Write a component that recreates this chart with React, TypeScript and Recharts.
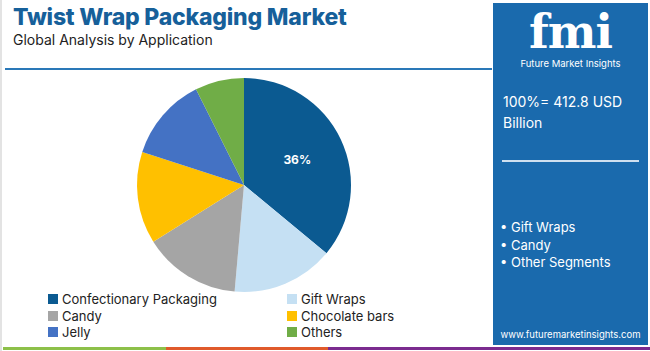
import { Cell, Pie, PieChart } from 'recharts'

const segments = ['Confectionary Packaging', 'Gift Wraps', 'Candy', 'Chocolate bars', 'Jelly', 'Others']
const shares = [36, 15.4, 14.7, 13.9, 12.6, 7.4]
const colors = ['#0b5a91', '#c5e0f3', '#a5a5a5', '#ffc000', '#4472c4', '#70ad47']
const highlights = ['Gift Wraps', 'Candy', 'Other Segments']

const pieData = segments.map((name, i) => ({ name, value: shares[i] }))

const RAD = Math.PI / 180

function renderLabel(props: any) {
  const { cx, cy, midAngle, outerRadius, index, value } = props
  if (index !== 0) return null
  const r = outerRadius * 0.55
  const x = cx + r * Math.cos(-midAngle * RAD)
  const y = cy + r * Math.sin(-midAngle * RAD)
  return (
    <text x={x} y={y} fill="#fff" fontSize={12} fontWeight={700} textAnchor="middle" dominantBaseline="central">
      {`${Math.round(value)}%`}
    </text>
  )
}

export default function App() {
  const font = 'Inter, "Open Sans", sans-serif'
  return (
    <div style={{ position: 'fixed', left: 0, top: 0, width: 650, height: 351, background: '#fff', fontFamily: font, overflow: 'hidden' }}>
      <div style={{ position: 'absolute', left: 0, top: 0, width: 2, height: 351, background: '#e3e3e3' }} />
      <div style={{ position: 'absolute', left: 13, top: 3, fontSize: 23, fontWeight: 800, color: '#16609a', letterSpacing: -0.2 }}>
        Twist Wrap Packaging Market
      </div>
      <div style={{ position: 'absolute', left: 13, top: 31, fontSize: 14, color: '#222' }}>Global Analysis by Application</div>
      <div style={{ position: 'absolute', left: 5, top: 68, width: 487, height: 2, background: '#2a78b8' }} />

      <div style={{ position: 'absolute', left: 0, top: 0 }}>
        <PieChart width={490} height={300} margin={{ top: 0, right: 0, bottom: 0, left: 0 }}>
          <Pie
            data={pieData}
            dataKey="value"
            cx={244}
            cy={185}
            outerRadius={107}
            startAngle={90}
            endAngle={-270}
            stroke="none"
            label={renderLabel}
            labelLine={false}
            isAnimationActive={false}
          >
            {pieData.map((d, i) => (
              <Cell key={d.name} fill={colors[i]} />
            ))}
          </Pie>
        </PieChart>
      </div>

      <div style={{ position: 'absolute', left: 48, top: 291, width: 440, display: 'grid', gridTemplateColumns: '239px 200px', rowGap: 0 }}>
        {segments.map((s, i) => (
          <div key={s} style={{ display: 'flex', alignItems: 'center', height: 16.5, fontSize: 13, color: '#222' }}>
            <span style={{ width: 10, height: 10, background: colors[i], marginRight: 4, flexShrink: 0 }} />
            {s}
          </div>
        ))}
      </div>

      <div style={{ position: 'absolute', left: 493, top: 3, width: 155, height: 342, background: '#1a6aad', color: '#fff' }}>
        <div style={{ position: 'absolute', left: 0, width: 155, top: 4, textAlign: 'center', fontFamily: '"DejaVu Serif", serif', fontWeight: 900, fontSize: 46, letterSpacing: -1, lineHeight: '50px' }}>
          fmi
        </div>
        <div style={{ position: 'absolute', left: 0, width: 155, top: 55, textAlign: 'center', fontSize: 9.5 }}>Future Market Insights</div>
        <div style={{ position: 'absolute', left: 10, top: 88, fontSize: 14, lineHeight: '21px' }}>
          100%= 412.8 USD
          <br />
          Billion
        </div>
        <div style={{ position: 'absolute', left: 9, top: 157, width: 137, height: 1.5, background: '#cfe0f0' }} />
        <div style={{ position: 'absolute', left: 7, top: 216, fontSize: 13, lineHeight: '17.5px' }}>
          {highlights.map((h) => (
            <div key={h}>• {h}</div>
          ))}
        </div>
        <div style={{ position: 'absolute', left: 0, width: 155, top: 326, textAlign: 'center', fontSize: 9.5 }}>www.futuremarketinsights.com</div>
      </div>

      <div style={{ position: 'absolute', left: 3, top: 347, width: 163, height: 3, background: '#8dc049' }} />
      <div style={{ position: 'absolute', left: 166, top: 347, width: 162, height: 3, background: '#e05a2b' }} />
      <div style={{ position: 'absolute', left: 328, top: 347, width: 322, height: 3, background: '#7b2b8f' }} />
    </div>
  )
}
